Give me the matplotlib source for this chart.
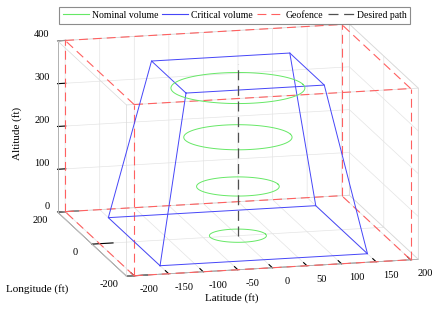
import itertools
import matplotlib
matplotlib.use("Agg")
import matplotlib.pyplot as plt
from matplotlib.lines import Line2D
from matplotlib.transforms import IdentityTransform
from mpl_toolkits.mplot3d import proj3d
import numpy as np

plt.rcParams['font.family'] = ['Liberation Serif', 'DejaVu Serif']
plt.rcParams['font.size'] = 7.5
plt.rcParams['axes.unicode_minus'] = False
plt.rcParams['grid.color'] = '#e4e4e4'
plt.rcParams['grid.linewidth'] = 0.5

# geofence box (ft)
fence_x = [-200, 200]
fence_y = [-200, 200]
fence_z = [0, 400]

# critical volume (frustum): half widths and heights
crit_half = [150, 100]
crit_z = [0, 380]

# nominal volume rings
ring_z = [0, 115, 230, 345]
ring_r = [40, 58, 76, 94]

# desired path (vertical through origin)
path_z = [0, 400]

lat_ticks = [-200, -150, -100, -50, 0, 50, 100, 150, 200]
lon_ticks = [-200, 0, 200]
alt_ticks = [0, 100, 200, 300, 400]
xlim = (-211, 211)
ylim = (-200, 200)
zlim = (0, 400)

c_nom = '#66e866'
c_crit = '#4646f8'
c_fence = '#ff6060'
c_path = '#505050'
fence_dash = (8, 4.5)

fig = plt.figure(figsize=(4.36, 3.10), dpi=100)
side = 437
cx, cy = 232, 310 - 156
ax = fig.add_axes([(cx - side / 2) / 436, (cy - side / 2) / 310, side / 436, side / 310],
                  projection='3d', proj_type='ortho')
ax.set_box_aspect((422, 400, 247), zoom=1.0)
ax.view_init(elev=13.4, azim=-104)

# light box outline (MATLAB "box on")
box = list(itertools.product(xlim, ylim, zlim))
for a, b in itertools.combinations(box, 2):
    if sum(p != q for p, q in zip(a, b)) == 1:
        ax.plot(*zip(a, b), color='#d9d9d9', lw=0.5)

# geofence edges
corners = list(itertools.product(fence_x, fence_y, fence_z))
for a, b in itertools.combinations(corners, 2):
    if sum(p != q for p, q in zip(a, b)) == 1:
        ax.plot(*zip(a, b), color=c_fence, lw=0.8, dashes=fence_dash)

# critical volume
def square(h, z):
    xs = [-h, h, h, -h, -h]
    ys = [-h, -h, h, h, -h]
    return xs, ys, [z] * 5

for h, z in zip(crit_half, crit_z):
    ax.plot(*square(h, z), color=c_crit, lw=0.7)
for sx, sy in [(-1, -1), (1, -1), (1, 1), (-1, 1)]:
    ax.plot([sx * crit_half[0], sx * crit_half[1]], [sy * crit_half[0], sy * crit_half[1]],
            crit_z, color=c_crit, lw=0.7)

# nominal rings
t = np.linspace(0, 2 * np.pi, 120)
for z, r in zip(ring_z, ring_r):
    ax.plot(r * np.cos(t), r * np.sin(t), np.full_like(t, z), color=c_nom, lw=0.7)

# desired path
ax.plot([0, 0], [0, 0], path_z, color=c_path, lw=0.9, dashes=fence_dash)

ax.set_xlim(*xlim)
ax.set_ylim(*ylim)
ax.set_zlim(*zlim)
ax.set_xticks(lat_ticks)
ax.set_yticks(lon_ticks)
ax.set_zticks(alt_ticks)
ax.set_xticklabels([])
ax.set_yticklabels([])
ax.set_zticklabels([])
tick_len = {'x': 0.6, 'y': 0.9, 'z': 0.35}
for name, axis in zip('xyz', (ax.xaxis, ax.yaxis, ax.zaxis)):
    axis.set_pane_color((1, 1, 1, 0))
    axis.pane.set_edgecolor('#dcdcdc')
    axis.line.set_color('#404040')
    axis.line.set_linewidth(0.6)
    axis._axinfo['tick']['inward_factor'] = 0.0
    axis._axinfo['tick']['outward_factor'] = tick_len[name]
    axis._axinfo['tick']['color'] = '#404040'
ax.set_xlabel('')
ax.set_ylabel('')
ax.set_zlabel('')

# tick labels placed MATLAB-style, offset from the projected tick anchors
fig.canvas.draw()


def put_label(x, y, z, text, dx, dy, ha='center'):
    px, py, _ = proj3d.proj_transform(x, y, z, ax.M)
    sx, sy = ax.transData.transform((px, py))
    fig.text(sx + dx, sy + dy, text, transform=IdentityTransform(),
             ha=ha, va='center', fontsize=7.5)


for v in lat_ticks:
    put_label(v, ylim[0], zlim[0], str(v), 15, -14)
for v in lon_ticks:
    put_label(xlim[0], v, zlim[0], str(v), -17, -8)
for v in alt_ticks:
    put_label(xlim[0], ylim[1], v, str(v), -8, 6, ha='right')

fig.text(232 / 436, 1 - 298 / 310, 'Latitude (ft)', ha='center', va='center', fontsize=8)
fig.text(37 / 436, 1 - 289 / 310, 'Longitude (ft)', ha='center', va='center', fontsize=8)
fig.text(17 / 436, 1 - 133 / 310, 'Altitude (ft)', ha='center', va='center', fontsize=8,
         rotation=90)

handles = [Line2D([], [], color=c_nom, lw=0.8),
           Line2D([], [], color=c_crit, lw=0.8),
           Line2D([], [], color=c_fence, lw=0.8, dashes=fence_dash),
           Line2D([], [], color=c_path, lw=0.9, dashes=fence_dash)]
leg = fig.legend(handles, ['Nominal volume', 'Critical volume', 'Geofence', 'Desired path'],
                 loc='upper center', bbox_to_anchor=(234.5 / 436, 1 - 7 / 310), ncol=4,
                 fontsize=7, frameon=True, fancybox=False, edgecolor='#707070',
                 handlelength=2.7, handletextpad=0.3, columnspacing=0.4,
                 borderpad=0.4, borderaxespad=0)
leg.get_frame().set_linewidth(0.8)

fig.savefig('out.png', dpi=100)
